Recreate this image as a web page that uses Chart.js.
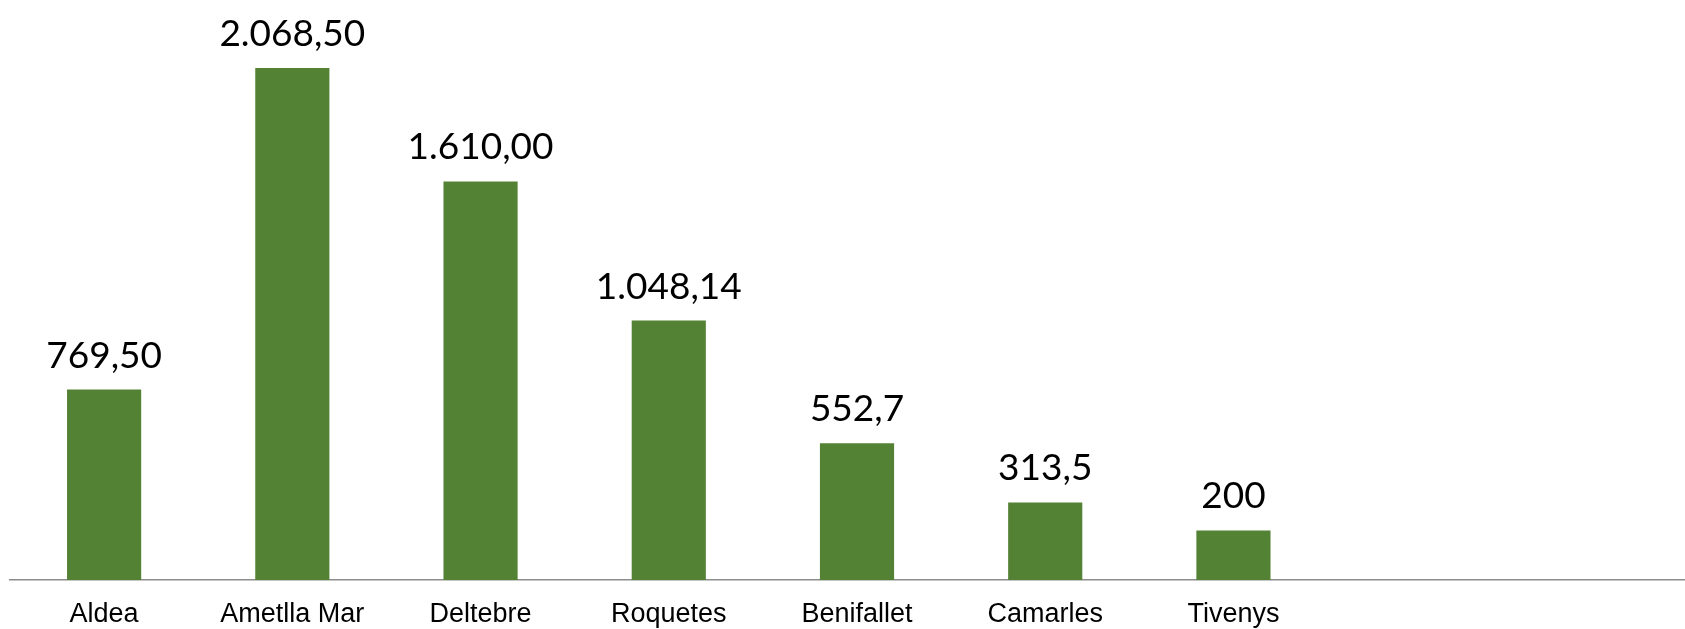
<!DOCTYPE html>
<html>
<head>
<meta charset="utf-8">
<script src="https://cdn.jsdelivr.net/npm/chart.js@4"></script>
<style>
	html, body { margin: 0; padding: 0; background: #fff; overflow: hidden; }
	#wrap { width: 1704px; height: 629px; position: relative; }
</style>
</head>
<body>
<div id="wrap"><canvas id="barChart"></canvas></div>
<script>
// chart data
const categories = ['Aldea', 'Ametlla Mar', 'Deltebre', 'Roquetes', 'Benifallet', 'Camarles', 'Tivenys', '', ''];
const values = [769.5, 2068.5, 1610, 1048.14, 552.7, 313.5, 200, null, null];
const valueLabels = ['769,50', '2.068,50', '1.610,00', '1.048,14', '552,7', '313,5', '200', '', ''];

// draws the number above each bar
const barValueLabels = {
	id: 'barValueLabels',
	afterDatasetsDraw(chart) {
		const ctx = chart.ctx;
		const meta = chart.getDatasetMeta(0);
		ctx.save();
		ctx.font = '37px Lato';
		ctx.fillStyle = '#000';
		ctx.textAlign = 'center';
		ctx.textBaseline = 'alphabetic';
		meta.data.forEach((bar, i) => {
			if (values[i] == null) return;
			ctx.fillText(valueLabels[i], bar.x, bar.y - 22);
		});
		ctx.restore();
	}
};

const ctx = document.getElementById('barChart').getContext('2d');
new Chart(ctx, {
	type: 'bar',
	data: {
		labels: categories,
		datasets: [{
			data: values,
			backgroundColor: '#548235',
			borderWidth: 0,
			categoryPercentage: 1,
			barPercentage: 0.394
		}]
	},
	options: {
		responsive: true,
		maintainAspectRatio: false,
		animation: false,
		layout: { padding: { left: 10, right: 0, top: 0, bottom: 0 } },
		plugins: {
			legend: { display: false },
			tooltip: { enabled: false }
		},
		scales: {
			x: {
				grid: { display: false, drawTicks: false },
				border: { display: true, color: '#8c8c8c', width: 1.5 },
				ticks: {
					color: '#000',
					font: { family: 'Liberation Sans', size: 27 },
					padding: 18,
					maxRotation: 0,
					autoSkip: false
				},
				afterFit(scale) { scale.height = 49; }
			},
			y: {
				display: false,
				min: 0,
				max: 2343
			}
		}
	},
	plugins: [barValueLabels]
});
</script>
</body>
</html>
